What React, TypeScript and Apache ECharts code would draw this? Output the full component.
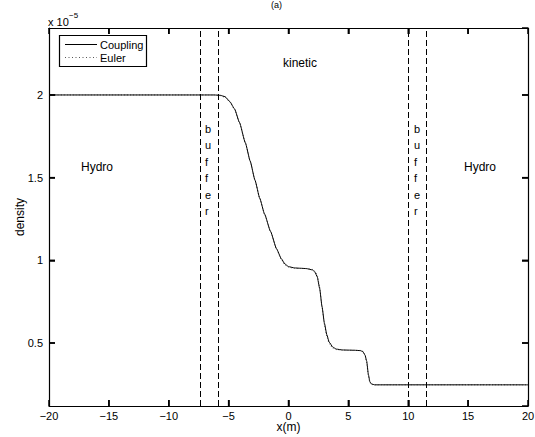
import React, { useEffect, useRef } from "react";
import * as echarts from "echarts";

// density values are in units of 1e-5
const couplingX = [-20, -6.2, -5.7, -5.3, -4.9, -4.5, -4.1, -3.6, -3.2, -2.8, -2.4, -2.0, -1.5, -1.0, -0.6, -0.3, 0, 0.5, 1.0, 1.5, 2.0, 2.2, 2.4, 2.6, 2.8, 3.0, 3.2, 3.4, 3.7, 4.0, 4.5, 5.0, 5.5, 6.0, 6.2, 6.39, 6.53, 6.67, 6.8, 6.94, 7.2, 20];
const couplingY = [2.0, 2.0, 1.998, 1.99, 1.96, 1.915, 1.835, 1.71, 1.6, 1.485, 1.375, 1.28, 1.175, 1.07, 1.01, 0.978, 0.962, 0.954, 0.952, 0.95, 0.942, 0.93, 0.9, 0.83, 0.72, 0.62, 0.55, 0.505, 0.475, 0.463, 0.458, 0.457, 0.456, 0.454, 0.448, 0.427, 0.39, 0.31, 0.265, 0.252, 0.247, 0.247];
const eulerX = [-20, -6.1, -5.7, -5.3, -4.9, -4.5, -4.1, -3.6, -3.2, -2.8, -2.4, -2.0, -1.5, -1.0, -0.6, -0.3, 0, 0.5, 1.0, 1.5, 2.0, 2.2, 2.4, 2.6, 2.8, 3.0, 3.2, 3.4, 3.7, 4.0, 4.5, 5.0, 5.5, 6.0, 6.2, 6.39, 6.53, 6.67, 6.8, 6.94, 7.2, 20];
const eulerY = [2.0, 2.0, 1.996, 1.986, 1.957, 1.912, 1.833, 1.71, 1.6, 1.485, 1.375, 1.28, 1.175, 1.068, 1.005, 0.972, 0.958, 0.952, 0.951, 0.95, 0.945, 0.936, 0.91, 0.84, 0.72, 0.61, 0.54, 0.495, 0.468, 0.46, 0.457, 0.456, 0.456, 0.455, 0.452, 0.43, 0.38, 0.3, 0.258, 0.249, 0.247, 0.247];
const bufferEdges = [-7.4, -5.9, 10, 11.5];
const xTicks = { min: -20, max: 20, interval: 5 };
const xTickValues = [-15, -10, -5, 0, 5, 10, 15];
const yTickValues = [0.5, 1, 1.5, 2];
const yRange = { min: 0.119, max: 2.405 };
const seriesNames = ["Coupling", "Euler"];
const bufferLetters = ["b", "u", "f", "f", "e", "r"];

const FONT = "'Liberation Sans', Arial, Helvetica, sans-serif";

export default function App() {
  const ref = useRef<HTMLDivElement>(null);
  useEffect(() => {
    if (!ref.current) return;
    const chart = echarts.init(ref.current, undefined, { renderer: "svg" });
    const axisLine = () => ({ show: true, onZero: false, lineStyle: { color: "#000", width: 1.2 } });
    const axisTick = () => ({ show: true, inside: true, length: 6, lineStyle: { color: "#000", width: 1.5 } });
    const t = (text: string, x: number, y: number, size = 12, extra: any = {}) => ({
      type: "text",
      x,
      y,
      z: 10,
      style: { text, font: `${size}px ${FONT}`, fill: "#000", ...extra },
    });
    const g: any[] = [];
    g.push(t("(a)", 271, 0, 9));
    g.push(t("x 10", 48, 16, 11));
    g.push(t("−5", 69, 11, 8));
    g.push(t("Hydro", 81, 161));
    g.push(t("Hydro", 464, 161));
    g.push(t("kinetic", 283, 57));
    bufferLetters.forEach((l, i) => {
      g.push(t(l, 205, 123 + i * 16.5, 11));
      g.push(t(l, 414, 123 + i * 16.5, 11));
    });
    // legend box
    g.push({ type: "rect", z: 10, shape: { x: 59.5, y: 35.5, width: 87, height: 31 }, style: { fill: "#fff", stroke: "#000", lineWidth: 1.2 } });
    g.push({ type: "line", z: 11, shape: { x1: 65, y1: 44.5, x2: 97, y2: 44.5 }, style: { stroke: "#000", lineWidth: 1 } });
    g.push({ type: "line", z: 11, shape: { x1: 65, y1: 57.5, x2: 97, y2: 57.5 }, style: { stroke: "#555", lineWidth: 1, lineDash: [1, 2.5] } });
    g.push(t(seriesNames[0], 100, 39, 11));
    g.push(t(seriesNames[1], 100, 52, 11));
    chart.setOption({
      animation: false,
      textStyle: { fontFamily: FONT },
      grid: { left: 49, right: 7, top: 28, bottom: 31, outerBoundsMode: "none", containLabel: false },
      xAxis: [
        {
          type: "value",
          min: xTicks.min,
          max: xTicks.max,
          interval: xTicks.interval,
          name: "x(m)",
          nameLocation: "middle",
          nameGap: 15,
          nameMoveOverlap: false,
          nameTextStyle: { fontSize: 12, color: "#000", fontFamily: FONT },
          axisLine: axisLine(),
          axisTick: axisTick(),
          splitLine: { show: false },
          axisLabel: { color: "#000", fontSize: 11, margin: 4, fontFamily: FONT, formatter: (v: number) => (v < 0 ? "−" + Math.abs(v) : String(v)) },
        },
        {
          type: "value",
          position: "top",
          min: xTicks.min,
          max: xTicks.max,
          interval: xTicks.interval,
          axisLine: axisLine(),
          axisTick: axisTick(),
          splitLine: { show: false },
          axisLabel: { show: false },
        },
      ],
      yAxis: [
        {
          type: "value",
          min: yRange.min,
          max: yRange.max,
          splitNumber: 5,
          name: "density",
          nameLocation: "middle",
          nameGap: 23,
          nameMoveOverlap: false,
          nameTextStyle: { fontSize: 12, color: "#000", fontFamily: FONT },
          axisLine: axisLine(),
          axisTick: axisTick(),
          splitLine: { show: false },
          axisLabel: { color: "#000", fontSize: 11, margin: 6, showMinLabel: false, showMaxLabel: false, fontFamily: FONT },
        },
        {
          type: "value",
          position: "right",
          min: yRange.min,
          max: yRange.max,
          splitNumber: 5,
          axisLine: axisLine(),
          axisTick: axisTick(),
          splitLine: { show: false },
          axisLabel: { show: false },
        },
      ],
      series: [
        {
          name: seriesNames[0],
          type: "line",
          symbol: "none",
          smooth: 0.15,
          smoothMonotone: "x",
          data: couplingX.map((x, i) => [x, couplingY[i]]),
          lineStyle: { color: "#000", width: 1 },
          itemStyle: { color: "#000" },
          markLine: {
            silent: true,
            symbol: "none",
            label: { show: false },
            lineStyle: { color: "#000", width: 1, type: [6, 3] },
            data: bufferEdges.map((x) => ({ xAxis: x })),
          },
          z: 3,
        },
        {
          name: seriesNames[1],
          type: "line",
          symbol: "none",
          smooth: 0.15,
          smoothMonotone: "x",
          data: eulerX.map((x, i) => [x, eulerY[i]]),
          lineStyle: { color: "#666", width: 1, type: [1, 2] },
          itemStyle: { color: "#666" },
          z: 2,
        },
      ],
    });
    // tick marks on all four sides, positioned via the chart's own scales
    const num = (v: any, fb: number) => {
      const n = Array.isArray(v) ? Number(v[0]) : Number(v);
      return isFinite(n) ? n : fb;
    };
    const top = 28;
    const bottom = 406;
    const left = 49;
    const right = 528;
    const ticks: any[] = [];
    const L = 6;
    const xScale = (v: number) => num(chart.convertToPixel({ xAxisIndex: 0 }, v), left + ((v - xTicks.min) / (xTicks.max - xTicks.min)) * (right - left));
    const yScale = (v: number) => num(chart.convertToPixel({ yAxisIndex: 0 }, v), bottom - ((v - yRange.min) / (yRange.max - yRange.min)) * (bottom - top));
    const tickStyle = { stroke: "#000", lineWidth: 1.5 };
    xTickValues.forEach((v) => {
      const px = xScale(v);
      ticks.push({ type: "line", z: 12, shape: { x1: px, y1: bottom, x2: px, y2: bottom - L }, style: tickStyle });
      ticks.push({ type: "line", z: 12, shape: { x1: px, y1: top, x2: px, y2: top + L }, style: tickStyle });
    });
    yTickValues.forEach((v) => {
      const py = yScale(v);
      ticks.push({ type: "line", z: 12, shape: { x1: left, y1: py, x2: left + L, y2: py }, style: tickStyle });
      ticks.push({ type: "line", z: 12, shape: { x1: right, y1: py, x2: right - L, y2: py }, style: tickStyle });
    });
    chart.setOption({ graphic: { elements: [...g, ...ticks] } });
    return () => chart.dispose();
  }, []);
  return <div ref={ref} style={{ width: 535, height: 437, position: "absolute", left: 0, top: 0 }} />;
}
